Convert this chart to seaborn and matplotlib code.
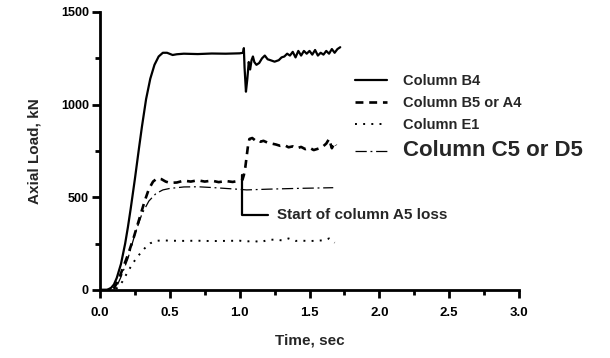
import matplotlib
matplotlib.use("Agg")
import matplotlib.pyplot as plt
import seaborn as sns
import pandas as pd
from matplotlib.ticker import MultipleLocator

# ---------------- data ----------------
b4_t = [0.0, 0.05, 0.08, 0.10, 0.12, 0.15, 0.18, 0.20, 0.22, 0.25, 0.28, 0.30, 0.33, 0.36, 0.39,
        0.42, 0.45, 0.48, 0.52, 0.55, 0.60, 0.70, 0.80, 0.90, 1.00, 1.025, 1.03, 1.035, 1.045,
        1.055, 1.065, 1.075, 1.085, 1.095, 1.105, 1.12, 1.14, 1.16, 1.18, 1.20, 1.22, 1.25, 1.28,
        1.30, 1.32, 1.34, 1.36, 1.38, 1.40, 1.42, 1.44, 1.46, 1.48, 1.50, 1.52, 1.54, 1.56, 1.58,
        1.60, 1.62, 1.64, 1.66, 1.68, 1.70, 1.72]
b4_v = [0, 0, 12, 30, 65, 140, 250, 340, 440, 600, 770, 880, 1030, 1140, 1215,
        1260, 1280, 1280, 1268, 1272, 1275, 1273, 1276, 1275, 1277, 1280, 1305, 1200, 1070,
        1140, 1230, 1190, 1240, 1260, 1230, 1215, 1225, 1250, 1265, 1245, 1240, 1232, 1240,
        1255, 1260, 1275, 1265, 1285, 1255, 1290, 1265, 1290, 1275, 1290, 1270, 1295, 1265, 1280,
        1270, 1290, 1275, 1300, 1280, 1300, 1310]

b5_t = [0.0, 0.08, 0.10, 0.13, 0.16, 0.20, 0.24, 0.28, 0.32, 0.35, 0.38, 0.41, 0.44, 0.47, 0.50,
        0.55, 0.60, 0.65, 0.70, 0.75, 0.80, 0.85, 0.90, 0.95, 1.00, 1.02, 1.03, 1.04, 1.05, 1.06,
        1.07, 1.09, 1.11, 1.13, 1.15, 1.17, 1.20, 1.23, 1.26, 1.29, 1.32, 1.35, 1.38, 1.41, 1.44,
        1.47, 1.50, 1.53, 1.56, 1.59, 1.62, 1.64, 1.66, 1.68, 1.69]
b5_v = [0, 0, 10, 50, 110, 190, 280, 380, 480, 545, 585, 603, 598, 585, 578,
        580, 590, 585, 592, 585, 590, 582, 588, 583, 590, 595, 620, 660, 720, 780,
        815, 820, 808, 812, 800, 805, 795, 790, 785, 778, 782, 770, 775, 765, 772,
        760, 768, 755, 762, 770, 790, 815, 765, 795, 780]

e1_t = [0.0, 0.10, 0.13, 0.16, 0.20, 0.24, 0.28, 0.32, 0.36, 0.40, 0.45, 0.50, 0.60, 0.70, 0.80,
        0.90, 1.00, 1.05, 1.10, 1.15, 1.20, 1.25, 1.30, 1.35, 1.40, 1.45, 1.50, 1.55, 1.60, 1.64,
        1.68]
e1_v = [0, 0, 15, 45, 100, 150, 190, 225, 252, 265, 268, 266, 265, 266, 264,
        265, 266, 262, 265, 258, 270, 272, 268, 278, 265, 266, 264, 266, 268, 278,
        255]

c5_t = [0.0, 0.10, 0.12, 0.15, 0.20, 0.25, 0.30, 0.35, 0.40, 0.45, 0.50, 0.60, 0.70, 0.80, 0.90,
        1.00, 1.05, 1.20, 1.40, 1.60, 1.67]
c5_v = [0, 0, 20, 70, 170, 300, 410, 480, 520, 540, 548, 556, 557, 553, 548,
        543, 540, 544, 548, 551, 552]

series_names = ["Column B4", "Column B5 or A4", "Column E1", "Column C5 or D5"]

x_ticks = [0.0, 0.5, 1.0, 1.5, 2.0, 2.5, 3.0]
y_ticks = [0, 500, 1000, 1500]

annot_t = [1.02, 1.02, 1.20]
annot_v = [620, 405, 405]
annot_text = "Start of column A5 loss"

# ---------------- plot ----------------
sns.set_style("ticks")
plt.rcParams['font.family'] = ['Liberation Sans', 'DejaVu Sans']

fig = plt.figure(figsize=(6.1, 3.58), dpi=100)
ax = fig.add_axes([100/610, 68/358, 419/610, 278/358])

styles = [
    dict(lw=1.6, ls='-'),
    dict(lw=1.9, ls=(0, (3, 2.2))),
    dict(lw=1.4, ls=(0, (1, 3.2))),
    dict(lw=0.9, ls=(0, (9, 3, 1.5, 3))),
]
data = [(b4_t, b4_v), (b5_t, b5_v), (e1_t, e1_v), (c5_t, c5_v)]
for (t, v), name, st in zip(data, series_names, styles):
    df = pd.DataFrame({"t": t, "v": v})
    sns.lineplot(data=df, x="t", y="v", ax=ax, color="black", label=name,
                 linewidth=st['lw'], linestyle=st['ls'], estimator=None, sort=False)

ax.plot(annot_t, annot_v, color="black", lw=1.6)
ax.text(1.265, 405, annot_text, fontsize=11, fontweight='bold', va='center', ha='left')

ax.set_xlim(0, 3.0)
ax.set_ylim(0, 1500)
ax.set_xticks(x_ticks)
ax.set_xticklabels([f"{x:.1f}" for x in x_ticks])
ax.set_yticks(y_ticks)
ax.xaxis.set_minor_locator(MultipleLocator(0.25))
ax.yaxis.set_minor_locator(MultipleLocator(250))

for s in ['top', 'right']:
    ax.spines[s].set_visible(False)
for s in ['left', 'bottom']:
    ax.spines[s].set_linewidth(2.0)
    ax.spines[s].set_color('black')

ax.tick_params(axis='both', which='major', direction='out', length=6, width=2.0,
               colors='black', bottom=True, left=True)
ax.tick_params(axis='x', which='major', labelsize=9.5, pad=6)
ax.tick_params(axis='y', which='major', labelsize=9, pad=2)
ax.tick_params(axis='both', which='minor', direction='out', length=3.5, width=2.0,
               colors='black', bottom=True, left=True)
for lab in ax.get_xticklabels() + ax.get_yticklabels():
    lab.set_fontweight('bold')

ax.set_xlabel("Time, sec", fontsize=11, fontweight='bold', labelpad=11)
ax.set_ylabel("Axial Load, kN", fontsize=11, fontweight='bold', labelpad=14)

leg = ax.legend(loc='upper left', bbox_to_anchor=(355/610, 1 - 74/358),
                bbox_transform=fig.transFigure, frameon=False, handlelength=2.2,
                handletextpad=1.1, labelspacing=0.55, borderaxespad=0, borderpad=0,
                prop={'weight': 'bold', 'size': 10.5})
texts = leg.get_texts()
texts[-1].set_fontsize(16)

fig.savefig("out.png", dpi=100)
